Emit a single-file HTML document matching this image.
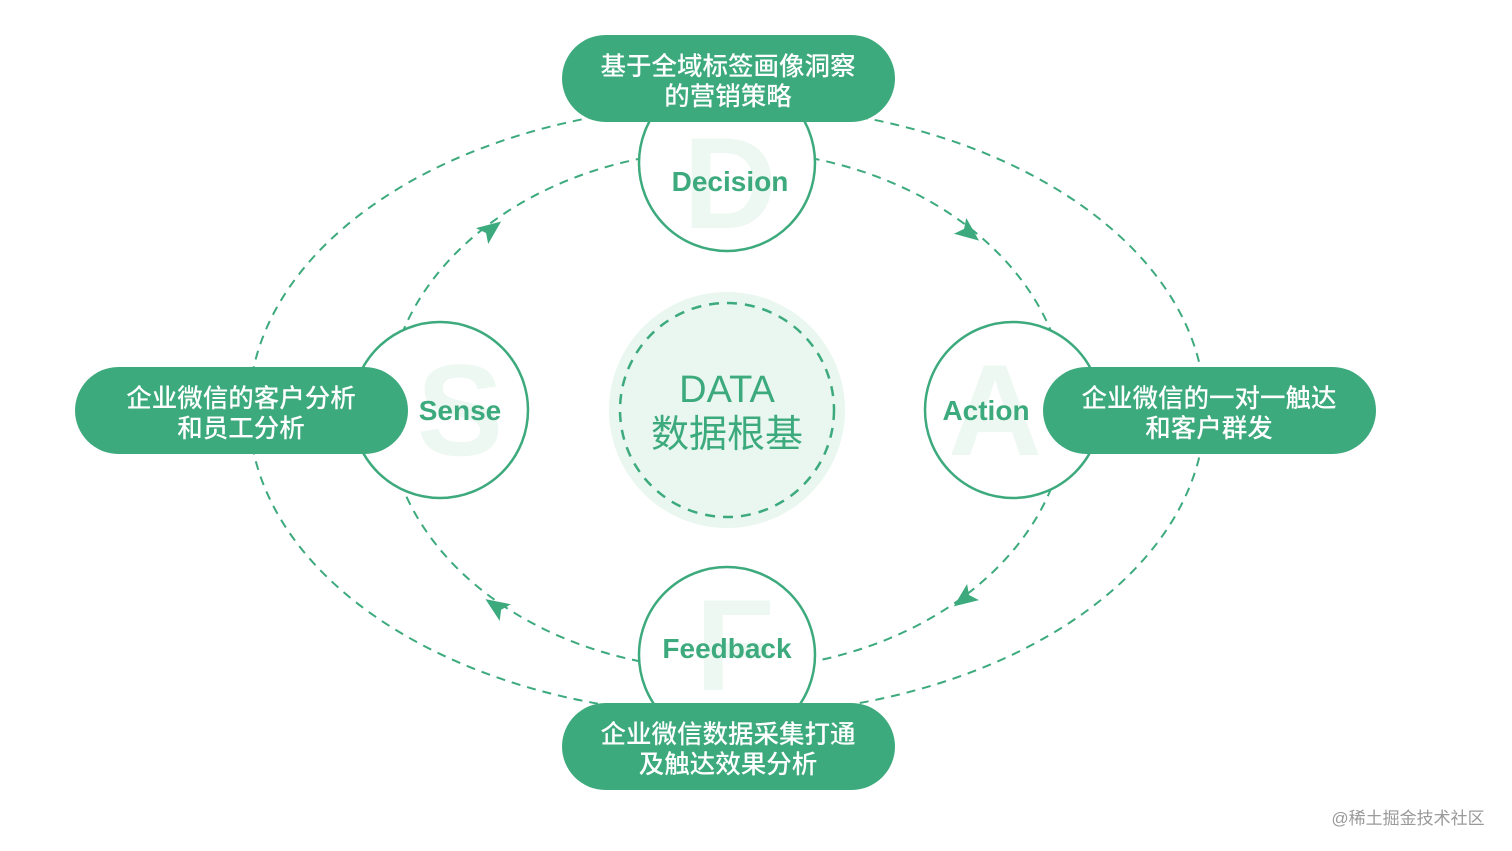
<!DOCTYPE html>
<html><head><meta charset="utf-8"><style>
html,body{margin:0;padding:0;background:#fff;}
body{width:1512px;height:851px;overflow:hidden;position:relative;font-family:"Liberation Sans","Noto Sans CJK SC",sans-serif;}
</style></head><body>
<svg width="1512" height="851" viewBox="0 0 1512 851" xmlns="http://www.w3.org/2000/svg" style="position:absolute;left:0;top:0">
<g fill="none" stroke="#3daa7d" stroke-width="2" stroke-dasharray="9 7">
<ellipse cx="727" cy="410" rx="478" ry="305"/>
<ellipse cx="727" cy="410" rx="340" ry="260"/>
</g>
<g fill="#3daa7d">
<polygon points="14,0 -10,-10 -5,0 -10,10" transform="translate(490,230) rotate(-37.6)"/>
<polygon points="14,0 -10,-10 -5,0 -10,10" transform="translate(968,232) rotate(38)"/>
<polygon points="14,0 -10,-10 -5,0 -10,10" transform="translate(965,598) rotate(143.5)"/>
<polygon points="14,0 -10,-10 -5,0 -10,10" transform="translate(497,607) rotate(-146)"/>
</g>
<circle cx="727" cy="410" r="118" fill="#e9f7f0"/>
<circle cx="727" cy="410" r="107" fill="none" stroke="#3daa7d" stroke-width="2.5" stroke-dasharray="10 8"/>
<g font-family="Liberation Sans, Noto Sans CJK SC, sans-serif" fill="#3daa7d" text-anchor="middle">
<text x="727" y="402" font-size="38">DATA</text>
<text x="727" y="447" font-size="38" font-family="Noto Sans CJK SC, sans-serif">数据根基</text>
</g>
<g fill="#fff" stroke="#3daa7d" stroke-width="2.5">
<circle cx="727" cy="163" r="88"/>
<circle cx="440" cy="410" r="88"/>
<circle cx="1013" cy="410" r="88"/>
<circle cx="727" cy="655" r="88"/>
</g>
<g font-family="Liberation Sans, sans-serif" font-weight="bold" fill="#edf8f2" text-anchor="middle" font-size="130">
<text x="730" y="228">D</text>
<text x="460" y="455">S</text>
<text x="995" y="455">A</text>
<text x="735" y="690">F</text>
</g>
<g font-family="Liberation Sans, sans-serif" font-weight="bold" fill="#3daa7d" text-anchor="middle" font-size="28">
<text x="730" y="191">Decision</text>
<text x="460" y="420">Sense</text>
<text x="986" y="420">Action</text>
<text x="727" y="658">Feedback</text>
</g>
<g fill="#3daa7d">
<rect x="562" y="35" width="333" height="87" rx="43.5"/>
<rect x="75" y="367" width="333" height="87" rx="43.5"/>
<rect x="1043" y="367" width="333" height="87" rx="43.5"/>
<rect x="562" y="703" width="333" height="87" rx="43.5"/>
</g>
<g font-family="Noto Sans CJK SC, sans-serif" fill="#fff" text-anchor="middle" font-size="25.5" font-weight="500">
<text x="728" y="75">基于全域标签画像洞察</text>
<text x="728" y="105">的营销策略</text>
<text x="241" y="407">企业微信的客户分析</text>
<text x="241" y="437">和员工分析</text>
<text x="1209" y="407">企业微信的一对一触达</text>
<text x="1209" y="437">和客户群发</text>
<text x="728" y="743">企业微信数据采集打通</text>
<text x="728" y="773">及触达效果分析</text>
</g>
<text x="1408" y="824" text-anchor="middle" font-family="Liberation Sans, Noto Sans CJK SC, sans-serif" font-size="17" fill="#9a9a9a">@稀土掘金技术社区</text>
</svg>
</body></html>
